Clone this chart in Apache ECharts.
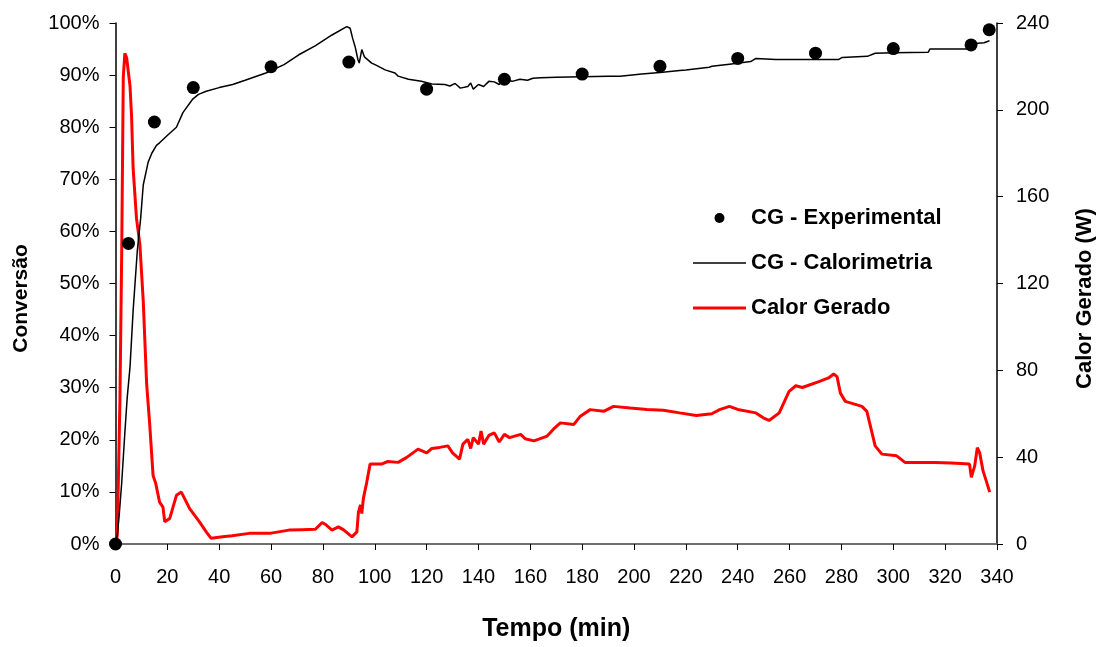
<!DOCTYPE html>
<html>
<head>
<meta charset="utf-8">
<script src="https://cdn.jsdelivr.net/npm/echarts@6/dist/echarts.min.js"></script>
<style>
html,body{margin:0;padding:0;background:#fff;}
#chart{width:1104px;height:647px;}
</style>
</head>
<body>
<div id="chart"></div>
<script>
// Experimental conversion points: [time (min), conversion (%)]
const experimentalTime = [0, 5, 15, 30, 60, 90, 120, 150, 180, 210, 240, 270, 300, 330, 337];
const experimentalConv = [0, 57.7, 81.0, 87.6, 91.6, 92.5, 87.3, 89.2, 90.2, 91.7, 93.2, 94.2, 95.1, 95.8, 98.7];

// Calorimetry conversion curve
const caloTime = [0, 0.7, 1.5, 2.4, 3.6, 4.5, 5.6, 6.8, 8.4, 9.7, 10.7, 12.6, 14, 15.8, 17, 20.6, 23.5, 26, 29.8, 32, 35, 40, 45.2, 50, 58, 65, 70.7, 77, 83.5, 89.2, 90.5, 91.5, 92.4, 93.5, 94, 95, 96, 98.8, 100.1, 104, 107.8, 109, 113, 118, 122, 127, 129, 131, 133, 135.9, 137, 138, 140, 142, 144, 146.1, 148, 150, 153, 156, 158.9, 161, 164, 170, 180, 190, 194.6, 195, 203, 203.6, 210, 217.6, 220, 229, 230, 236.8, 237, 245, 247, 254.7, 260, 270, 279, 280.3, 290, 293, 300, 313.5, 314.1, 328.8, 330, 332.6, 335, 337.1];
const caloConv = [0, 1.7, 6, 11.8, 21.3, 28, 34, 44.8, 56.2, 62.5, 68.9, 73.3, 75, 76.5, 77, 78.7, 80, 82.8, 85.4, 86.3, 86.9, 87.6, 88.2, 89, 90.4, 92, 93.9, 95.6, 97.7, 99.3, 99, 97, 95.5, 93, 92.3, 94.9, 93.5, 92.3, 92, 91, 90.4, 89.8, 89.2, 88.8, 88.3, 88.2, 87.9, 88.4, 87.5, 87.8, 88.5, 87.3, 88.2, 87.8, 88.8, 88.7, 88.2, 89.1, 88.8, 89.2, 89.0, 89.4, 89.5, 89.6, 89.7, 89.8, 89.8, 90.1, 90.2, 90.4, 90.5, 90.9, 91, 91.5, 91.7, 92.1, 92.3, 92.6, 93.2, 93.0, 93.0, 93.0, 93.0, 93.4, 93.6, 94.2, 94.3, 94.4, 95, 95, 95.6, 96.1, 96.2, 96.6];

// Heat generated curve (W)
const heatTime = [0, 0.7, 1.7, 2.4, 3, 3.6, 4.3, 4.9, 5.6, 6.2, 6.8, 8.1, 9.4, 10.7, 12, 13.2, 14.5, 15.5, 17, 18.3, 19, 20.9, 23.5, 25.4, 28.6, 32.4, 35, 36.9, 41.3, 45, 51.6, 60, 66.9, 72, 77.1, 79.7, 81, 83.5, 86, 88, 91.2, 93.1, 93.7, 94.5, 95, 95.6, 96.9, 98.2, 102.6, 105, 109, 112.2, 116.7, 120, 122, 125, 128.2, 130, 132.7, 134, 135.9, 137, 138, 140, 141, 142, 144, 146.1, 148, 150, 152, 156.3, 158, 161.4, 166.5, 169, 171.6, 176.8, 179.3, 183.1, 188.3, 192.1, 198.5, 205, 211.3, 217.6, 224, 230, 233, 236.8, 240, 247, 250, 252.1, 256, 259.8, 262.4, 264.9, 271.3, 275, 277, 278.3, 279.6, 281.5, 287.9, 289.8, 291.8, 293, 295.6, 301.3, 304.5, 316, 322.4, 329.4, 330.1, 331.4, 332.4, 333.3, 334.6, 337.2];
const heatW = [0, 4, 66, 135, 215, 226, 224, 224, 211, 197, 173, 150, 138, 112, 74, 55, 31.5, 28, 19.3, 17, 10.2, 11.7, 22.4, 23.9, 16.3, 10.2, 5.6, 2.6, 3.3, 3.8, 4.9, 5, 6.4, 6.6, 6.8, 9.9, 9, 6.4, 7.9, 6.5, 3.3, 5.6, 14.7, 18, 14, 20.9, 28.4, 36.8, 36.8, 38, 37.6, 39.8, 43.7, 42, 44, 44.5, 45.2, 42, 39.1, 46, 48.2, 44, 49, 46, 52, 46, 50, 51.2, 47, 50.5, 49, 50.5, 48.5, 47.5, 49.7, 53, 55.8, 55.1, 58.9, 61.9, 61.1, 63.4, 62.6, 62, 61.6, 60.4, 59.2, 60, 61.9, 63.4, 62, 60.4, 58, 56.9, 60.4, 70.3, 72.9, 72.1, 74.8, 76.5, 78.3, 77.1, 69.5, 65.7, 63.4, 61.1, 51.2, 45.2, 41.4, 40.6, 37.6, 37.6, 37.3, 36.8, 30.7, 36, 44.4, 42.1, 33.8, 23.9];

const zip = (a, b) => a.map((v, i) => [v, b[i]]);

const FONT = '"Liberation Sans", Arial, sans-serif';
const chart = echarts.init(document.getElementById('chart'), null, {renderer: 'canvas'});
chart.setOption({
  animation: false,
  backgroundColor: '#ffffff',
  grid: {left: 115.5, right: 101.5, top: 23, bottom: 98, containLabel: false},
  legend: {
    orient: 'vertical',
    left: 688,
    top: 201,
    itemWidth: 53,
    itemHeight: 10,
    itemGap: 21,
    textStyle: {fontFamily: FONT, fontWeight: 'bold', fontSize: 22, color: '#000', lineHeight: 24},
    data: [
      {name: 'CG - Experimental', icon: 'circle'},
      {name: 'CG - Calorimetria', icon: 'path://M0,0H106V3H0Z'},
      {name: 'Calor Gerado', icon: 'path://M0,0H53V3H0Z'}
    ]
  },
  xAxis: [{
    type: 'value', min: 0, max: 340, interval: 20,
    name: 'Tempo (min)', nameLocation: 'middle', nameGap: 73,
    nameTextStyle: {fontFamily: FONT, fontWeight: 'bold', fontSize: 25, color: '#000'},
    axisLine: {show: true, onZero: false, lineStyle: {color: '#000', width: 1.5}},
    axisTick: {show: true, length: 6, inside: false, lineStyle: {color: '#000'}},
    axisLabel: {fontFamily: FONT, fontSize: 20, color: '#000', margin: 23},
    splitLine: {show: false}
  }, {
    type: 'value', min: 0, max: 340, position: 'top',
    axisLine: {show: true, lineStyle: {color: '#808080', width: 1.5}},
    axisTick: {show: false}, axisLabel: {show: false}, splitLine: {show: false}
  }],
  yAxis: [{
    type: 'value', min: 0, max: 100, interval: 10, position: 'left',
    name: 'Conversão', nameLocation: 'middle', nameGap: 84, nameRotate: 90,
    nameTextStyle: {fontFamily: FONT, fontWeight: 'bold', fontSize: 21, color: '#000', padding: [0, 30, 0, 0]},
    axisLine: {show: true, onZero: false, lineStyle: {color: '#000', width: 1.5}},
    axisTick: {show: true, length: 6, inside: false, lineStyle: {color: '#000'}},
    axisLabel: {fontFamily: FONT, fontSize: 20, color: '#000', margin: 16, formatter: '{value}%'},
    splitLine: {show: false}
  }, {
    type: 'value', min: 0, max: 240, interval: 40, position: 'right',
    name: 'Calor Gerado (W)', nameLocation: 'middle', nameGap: 77, nameRotate: 90,
    nameTextStyle: {fontFamily: FONT, fontWeight: 'bold', fontSize: 22, color: '#000', padding: [0, 30, 0, 0]},
    axisLine: {show: true, onZero: false, lineStyle: {color: '#000', width: 1.5}},
    axisTick: {show: true, length: 6, inside: false, lineStyle: {color: '#000'}},
    axisLabel: {fontFamily: FONT, fontSize: 20, color: '#000', margin: 19},
    splitLine: {show: false}
  }],
  series: [{
    name: 'Calor Gerado', type: 'line', xAxisIndex: 0, yAxisIndex: 1,
    data: zip(heatTime, heatW), symbol: 'none', showSymbol: false,
    lineStyle: {color: '#ff0000', width: 3}, itemStyle: {color: '#ff0000'}, z: 2
  }, {
    name: 'CG - Calorimetria', type: 'line', xAxisIndex: 0, yAxisIndex: 0,
    data: zip(caloTime, caloConv), symbol: 'none', showSymbol: false,
    lineStyle: {color: '#000', width: 1.5}, itemStyle: {color: '#000'}, z: 3
  }, {
    name: 'CG - Experimental', type: 'scatter', xAxisIndex: 0, yAxisIndex: 0,
    data: zip(experimentalTime, experimentalConv), symbol: 'circle', symbolSize: 13,
    itemStyle: {color: '#000', opacity: 1}, clip: false, z: 4
  }]
});
</script>
</body>
</html>
